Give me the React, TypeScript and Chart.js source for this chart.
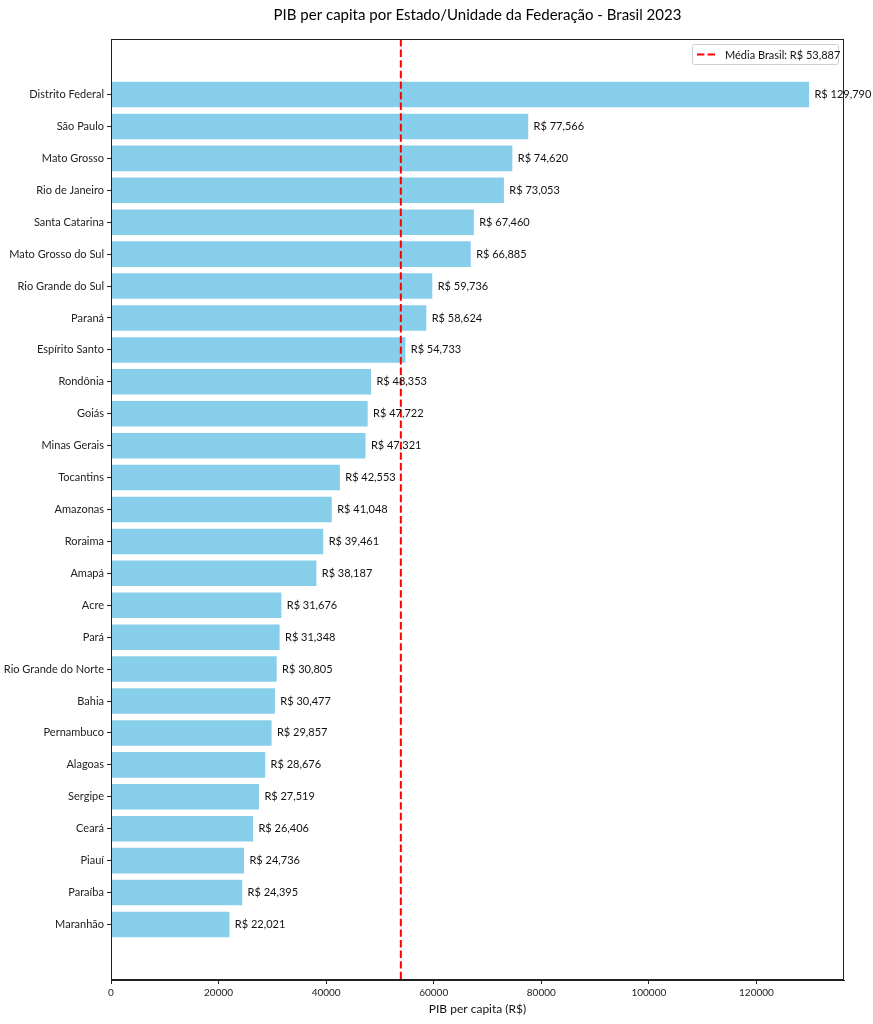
import React, { useEffect, useRef } from "react";
import { Chart, registerables } from "chart.js";

Chart.register(...registerables);

const TITLE = "PIB per capita por Estado/Unidade da Federação - Brasil 2023";
const X_TITLE = "PIB per capita (R$)";
const MEDIA_BRASIL = 53887;
const LEGEND_LABEL = "Média Brasil: R$ 53,887";

const STATES = [
  "Distrito Federal", "São Paulo", "Mato Grosso", "Rio de Janeiro", "Santa Catarina",
  "Mato Grosso do Sul", "Rio Grande do Sul", "Paraná", "Espírito Santo", "Rondônia",
  "Goiás", "Minas Gerais", "Tocantins", "Amazonas", "Roraima", "Amapá", "Acre", "Pará",
  "Rio Grande do Norte", "Bahia", "Pernambuco", "Alagoas", "Sergipe", "Ceará", "Piauí",
  "Paraíba", "Maranhão",
];

const PIB = [
  129790, 77566, 74620, 73053, 67460, 66885, 59736, 58624, 54733, 48353,
  47722, 47321, 42553, 41048, 39461, 38187, 31676, 31348, 30805, 30477,
  29857, 28676, 27519, 26406, 24736, 24395, 22021,
];

const X_TICKS = [0, 20000, 40000, 60000, 80000, 100000, 120000];

const FONT = "Lato, 'Open Sans', sans-serif";

const fmt = (v: number) => "R$ " + v.toLocaleString("en-US");

const decorPlugin = {
  id: "decor",
  afterDatasetsDraw(chart: any) {
    const { ctx, chartArea: a, scales } = chart;
    const xs = scales.x;
    const ys = scales.y;
    ctx.save();
    // average line
    const xm = xs.getPixelForValue(MEDIA_BRASIL);
    ctx.strokeStyle = "#ff0000";
    ctx.lineWidth = 2;
    ctx.setLineDash([7.4, 3.2]);
    ctx.beginPath();
    ctx.moveTo(xm, a.top);
    ctx.lineTo(xm, a.bottom);
    ctx.stroke();
    ctx.setLineDash([]);
    // value labels
    ctx.fillStyle = "#111";
    ctx.font = `11px ${FONT}`;
    ctx.textAlign = "left";
    ctx.textBaseline = "middle";
    PIB.forEach((v, i) => {
      ctx.fillText(fmt(v), xs.getPixelForValue(v + 1000), ys.getPixelForValue(i));
    });
    // frame
    ctx.strokeStyle = "#222";
    ctx.lineWidth = 1;
    ctx.strokeRect(a.left + 0.5, a.top + 0.5, a.right - a.left - 1, a.bottom - a.top - 1);
    // legend
    const lw = 146, lh = 20;
    const lx = a.right - 6 - lw, ly = a.top + 5;
    ctx.fillStyle = "rgba(255,255,255,0.85)";
    ctx.strokeStyle = "#d0d0d0";
    ctx.beginPath();
    ctx.roundRect(lx + 0.5, ly + 0.5, lw, lh, 2);
    ctx.fill();
    ctx.stroke();
    ctx.strokeStyle = "#ff0000";
    ctx.lineWidth = 2;
    ctx.setLineDash([7.4, 3.2]);
    ctx.beginPath();
    ctx.moveTo(lx + 5, ly + lh / 2 + 0.5);
    ctx.lineTo(lx + 24, ly + lh / 2 + 0.5);
    ctx.stroke();
    ctx.setLineDash([]);
    ctx.fillStyle = "#111";
    ctx.font = `11px ${FONT}`;
    ctx.textAlign = "left";
    ctx.fillText(LEGEND_LABEL, lx + 33, ly + lh / 2 + 1);
    // title
    ctx.fillStyle = "#000";
    ctx.font = `15px ${FONT}`;
    ctx.textAlign = "center";
    ctx.fillText(TITLE, (a.left + a.right) / 2, 15);
    ctx.restore();
  },
};

export default function App() {
  const ref = useRef<HTMLCanvasElement>(null);
  useEffect(() => {
    const chart = new Chart(ref.current as HTMLCanvasElement, {
      type: "bar",
      data: {
        datasets: [
          {
            data: PIB.map((v, i) => ({ x: v, y: i })) as any,
            backgroundColor: "#87CEEB",
            borderWidth: 0,
            barPercentage: 0.8,
            categoryPercentage: 1,
          },
        ],
      },
      options: {
        indexAxis: "y",
        animation: false,
        responsive: true,
        maintainAspectRatio: false,
        layout: { padding: { top: 39, right: 29, left: 0, bottom: 0 } },
        plugins: { legend: { display: false }, tooltip: { enabled: false }, title: { display: false } },
        scales: {
          x: {
            type: "linear",
            min: 0,
            max: Math.max(...PIB) * 1.05,
            afterBuildTicks: (s: any) => {
              s.ticks = X_TICKS.map((v) => ({ value: v }));
            },
            afterFit: (s: any) => {
              s.height = 44;
            },
            ticks: {
              callback: (v: any) => String(v),
              color: "#222",
              font: { family: FONT, size: 10 },
              padding: 3,
              maxRotation: 0,
            },
            grid: { display: true, drawOnChartArea: false, drawTicks: true, tickLength: 4, color: "#222" },
            border: { display: true, color: "#222" },
            title: {
              display: true,
              text: X_TITLE,
              color: "#111",
              font: { family: FONT, size: 12 },
              padding: { top: 2, bottom: 8 },
            },
          },
          y: {
            type: "linear",
            reverse: true,
            offset: false,
            min: -1.74,
            max: STATES.length - 1 + 1.74,
            afterBuildTicks: (s: any) => {
              s.ticks = STATES.map((_, i) => ({ value: i }));
            },
            afterFit: (s: any) => {
              s.width = 111;
            },
            ticks: {
              callback: (v: any) => STATES[v as number] ?? "",
              color: "#222",
              font: { family: FONT, size: 11 },
              padding: 3,
              autoSkip: false,
            },
            grid: {
              display: true,
              offset: false,
              drawOnChartArea: false,
              drawTicks: true,
              tickLength: 4,
              color: "#222",
            },
            border: { display: true, color: "#222" },
          },
        },
      },
      plugins: [decorPlugin],
    });
    return () => chart.destroy();
  }, []);
  return (
    <div style={{ position: "absolute", left: 0, top: 0, width: 873, height: 1024, background: "#fff" }}>
      <canvas ref={ref} />
    </div>
  );
}
